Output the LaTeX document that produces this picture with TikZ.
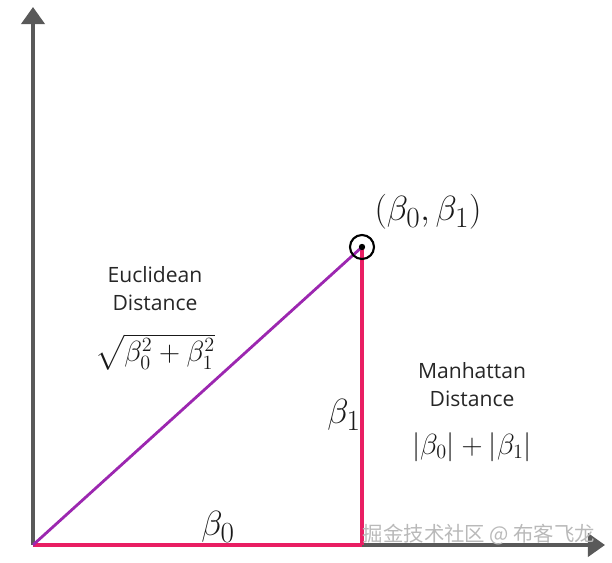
\documentclass[tikz,border=0pt]{standalone}
\usepackage{amsmath}
\usepackage{fontspec}
\setmainfont{Open Sans}
\newfontfamily\cjk{Noto Sans CJK SC}
\usetikzlibrary{arrows.meta}
\usetikzlibrary{positioning}

\definecolor{axisgray}{HTML}{595959}
\definecolor{manhattan}{HTML}{E91E63}
\definecolor{euclid}{HTML}{9C27B0}

\tikzset{
  axis/.style={draw=axisgray,line width=2.8pt,-{Triangle[length=0.43cm,width=0.58cm]}},
  label/.style={align=center,font=\fontsize{15}{20}\selectfont,text=black!85},
  mathlabel/.style={font=\Huge,text=black!90},
}

\begin{document}
\begin{tikzpicture}
\useasboundingbox (-0.825,-0.425) rectangle (14.475,13.625);

\coordinate(o) at (0, 0);
\coordinate(xend) at (14.3, 0);
\coordinate(yend) at (0, 13.45);
\coordinate(pt) at (8.225, 7.45);
\coordinate(foot) at (8.225, 0);

\draw[axis] (o)--(yend);
\draw[axis] (o)--(xend);

\draw[manhattan,line width=2.2pt] (o)--(foot);
\draw[manhattan,line width=2.2pt] (foot)--(pt);
\draw[euclid,line width=2pt] (o)--(pt);

\node(ring) at (pt) [draw,circle,line width=1.5pt,minimum size=0.6cm] {};
\fill (pt) circle (0.08);

\node(pname) at (9.875, 8.325) [mathlabel] {$(\beta_0,\beta_1)$};

\node(euc) at (3.05, 6.42) [label] {Euclidean\\Distance};
\node(eucf) at (3.05, 4.83) [mathlabel,font=\huge,inner sep=1pt] {$\sqrt{\beta_0^2+\beta_1^2}$};

\node(man) at (10.975, 4.0) [label] {Manhattan\\Distance};
\node(manf) at (10.975, 2.45) [mathlabel,font=\huge] {$|\beta_0|+|\beta_1|$};

\node(b1) at (7.775, 3.25) [mathlabel] {$\beta_1$};
\node(b0) at (4.625, 0.45) [mathlabel] {$\beta_0$};

\node(wm) at (11.15, 0.25) [font=\cjk\fontsize{14.5}{16}\selectfont,text=gray!55] {掘金技术社区 @ 布客飞龙};
\end{tikzpicture}
\end{document}
